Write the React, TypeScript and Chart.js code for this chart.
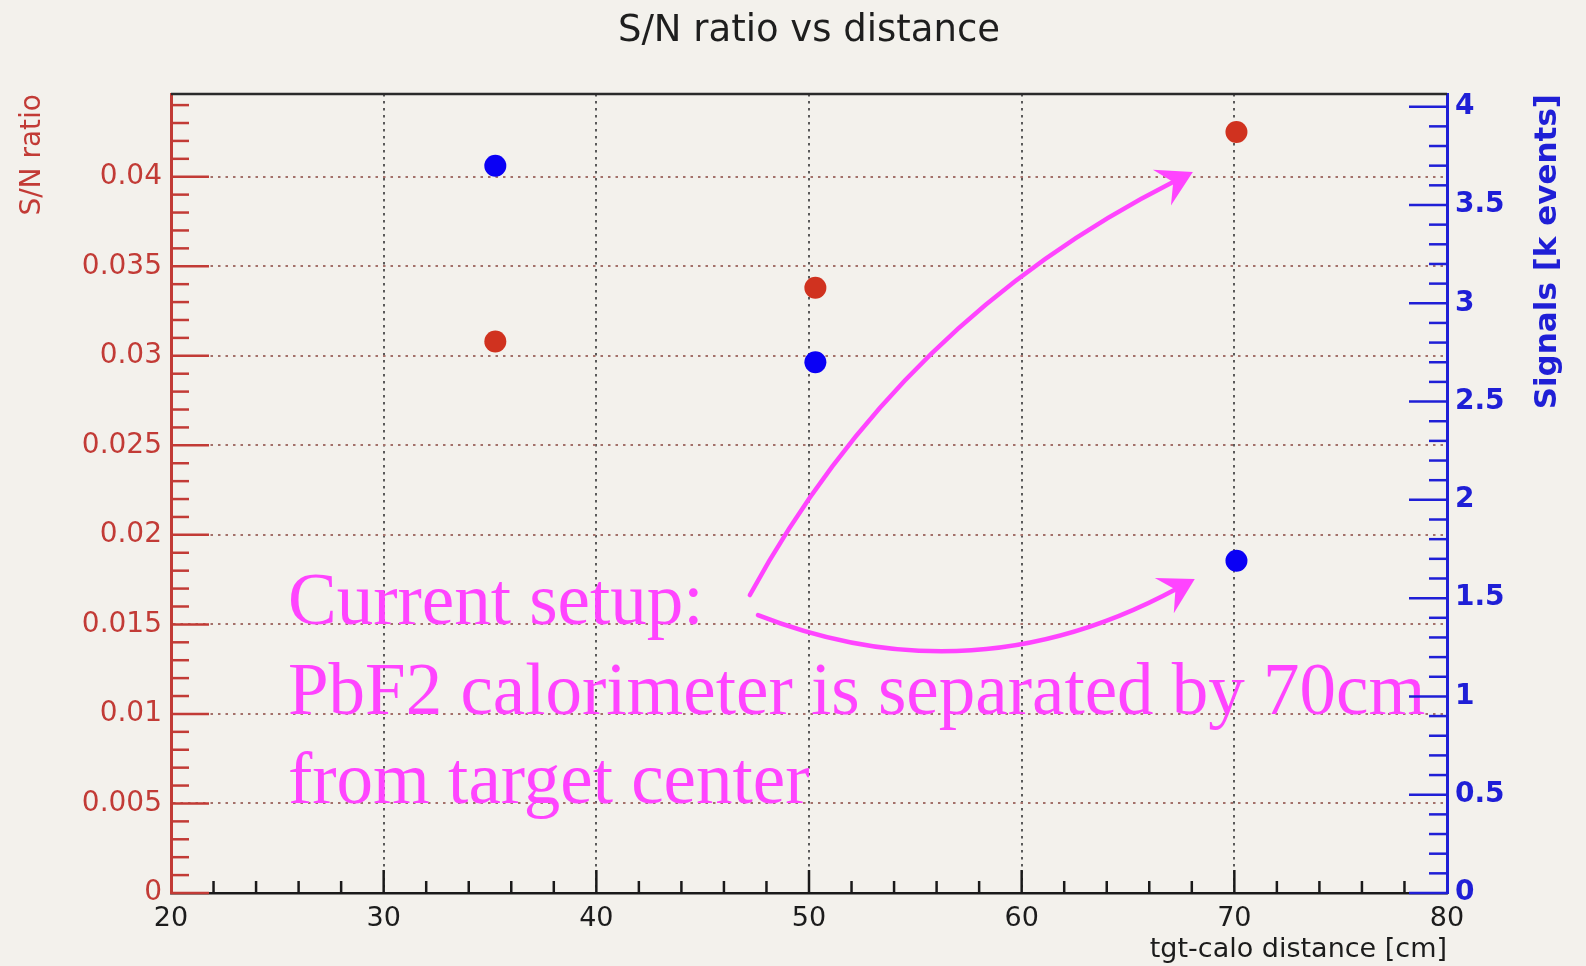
import React, { useEffect, useRef } from 'react';
import { Chart, registerables } from 'chart.js';

Chart.register(...registerables);

// ---- data ----
const distances = [35.25, 50.3, 70.1];
const snRatio = [0.0308, 0.0338, 0.0425];
const signalsK = [3.7, 2.7, 1.69];

const xTicks = [20, 30, 40, 50, 60, 70, 80];
const xTickLabels = ['20', '30', '40', '50', '60', '70', '80'];
const snTicks = [0, 0.005, 0.01, 0.015, 0.02, 0.025, 0.03, 0.035, 0.04];
const snTickLabels = ['0', '0.005', '0.01', '0.015', '0.02', '0.025', '0.03', '0.035', '0.04'];
const sigTicks = [0, 0.5, 1, 1.5, 2, 2.5, 3, 3.5, 4];
const sigTickLabels = ['0', '0.5', '1', '1.5', '2', '2.5', '3', '3.5', '4'];

const noteLines = ['Current setup:', 'PbF2 calorimeter is separated by 70cm', 'from target center'];

// ---- styles ----
const BG = '#f3f1ec';
const RED_AX = '#c23b36';
const RED_PT = '#d0321f';
const BLUE_AX = '#1f1fd6';
const BLUE_PT = '#0a00f5';
const MAGENTA = '#ff44ff';
const FONT = 'DejaVu Sans';
const TRANSPARENT = 'rgba(0,0,0,0)';

// annotation anchors (in data units: x distance, y S/N ratio)
const NOTE_X = 25.5;
const NOTE_Y = [0.015, 0.01, 0.005];
const ARROWS = [
  { from: [47.22, 0.01664], ctrl: [54.27, 0.032], to: [68.05, 0.04026] },
  { from: [47.6, 0.01552], ctrl: [57.7, 0.01083], to: [68.14, 0.01753] },
];

const rootDecor = {
  id: 'rootDecor',
  afterDatasetsDraw(chart: any) {
    const { ctx, scales } = chart;
    const xs = scales.x;
    const ys = scales.y;
    ctx.save();
    // annotation text
    ctx.fillStyle = MAGENTA;
    ctx.font = '73px "Liberation Serif"';
    ctx.textAlign = 'left';
    ctx.textBaseline = 'alphabetic';
    noteLines.forEach((t, i) => {
      ctx.fillText(t, xs.getPixelForValue(NOTE_X), ys.getPixelForValue(NOTE_Y[i]));
    });
    // arrows
    ctx.strokeStyle = MAGENTA;
    ctx.lineWidth = 4.5;
    ctx.lineCap = 'round';
    ARROWS.forEach((a) => {
      const p0 = [xs.getPixelForValue(a.from[0]), ys.getPixelForValue(a.from[1])];
      const p1 = [xs.getPixelForValue(a.ctrl[0]), ys.getPixelForValue(a.ctrl[1])];
      const p2 = [xs.getPixelForValue(a.to[0]), ys.getPixelForValue(a.to[1])];
      const dx = p2[0] - p1[0];
      const dy = p2[1] - p1[1];
      const len = Math.hypot(dx, dy);
      const ux = dx / len;
      const uy = dy / len;
      const L = 40;
      const back = [p2[0] - ux * L * 0.5, p2[1] - uy * L * 0.5];
      ctx.beginPath();
      ctx.moveTo(p0[0], p0[1]);
      ctx.quadraticCurveTo(p1[0], p1[1], back[0], back[1]);
      ctx.stroke();
      const ang = Math.PI / 6;
      const rot = (s: number) => [
        -(ux * Math.cos(s * ang) - uy * Math.sin(s * ang)),
        -(ux * Math.sin(s * ang) + uy * Math.cos(s * ang)),
      ];
      const r1 = rot(1);
      const r2 = rot(-1);
      ctx.beginPath();
      ctx.moveTo(p2[0], p2[1]);
      ctx.lineTo(p2[0] + r1[0] * L, p2[1] + r1[1] * L);
      ctx.lineTo(p2[0] - ux * L * 0.55, p2[1] - uy * L * 0.55);
      ctx.lineTo(p2[0] + r2[0] * L, p2[1] + r2[1] * L);
      ctx.closePath();
      ctx.fillStyle = MAGENTA;
      ctx.fill();
    });
    ctx.restore();
  },
  afterDraw(chart: any) {
    const { ctx, chartArea, scales } = chart;
    const { left, right, top, bottom } = chartArea;
    const xs = scales.x;
    const ys = scales.y;
    const y1 = scales.y1;
    ctx.save();
    ctx.lineCap = 'butt';
    // top frame line
    ctx.strokeStyle = '#2a2a2a';
    ctx.lineWidth = 2.5;
    ctx.beginPath();
    ctx.moveTo(left, top);
    ctx.lineTo(right, top);
    ctx.stroke();

    // x ticks (inward)
    ctx.strokeStyle = '#1a1a1a';
    ctx.lineWidth = 2.5;
    for (let i = 0; i <= 30; i++) {
      const v = xs.min + i * 2;
      if (v <= xs.min || v >= xs.max) continue;
      const major = i % 5 === 0;
      const px = xs.getPixelForValue(v);
      ctx.beginPath();
      ctx.moveTo(px, bottom);
      ctx.lineTo(px, bottom - (major ? 23 : 12));
      ctx.stroke();
    }

    // left y ticks
    ctx.strokeStyle = RED_AX;
    ctx.lineWidth = 2.5;
    for (let i = 0; i * 0.001 <= ys.max + 1e-9; i++) {
      const v = i * 0.001;
      const major = i % 5 === 0;
      const py = ys.getPixelForValue(v);
      ctx.beginPath();
      ctx.moveTo(left, py);
      ctx.lineTo(left + (major ? 38 : 18), py);
      ctx.stroke();
    }

    // right y ticks
    ctx.strokeStyle = BLUE_AX;
    for (let i = 0; i * 0.1 <= y1.max + 1e-9; i++) {
      const v = i * 0.1;
      const major = i % 5 === 0;
      const py = y1.getPixelForValue(v);
      ctx.beginPath();
      ctx.moveTo(right, py);
      ctx.lineTo(right - (major ? 38 : 18), py);
      ctx.stroke();
    }

    // right axis title (reads bottom to top, end at top)
    ctx.fillStyle = BLUE_AX;
    ctx.font = `bold 31px "${FONT}"`;
    ctx.textAlign = 'right';
    ctx.textBaseline = 'middle';
    ctx.translate(right + 101, top);
    ctx.rotate(-Math.PI / 2);
    ctx.fillText('Signals [k events]', 0, 0);
    ctx.restore();
  },
};

export default function App() {
  const ref = useRef<HTMLCanvasElement>(null);

  useEffect(() => {
    document.body.style.margin = '0';
    document.body.style.background = BG;
    Chart.defaults.font.family = FONT;
    const chart = new Chart(ref.current as HTMLCanvasElement, {
      type: 'scatter',
      data: {
        datasets: [
          {
            label: 'S/N ratio',
            data: distances.map((d, i) => ({ x: d, y: snRatio[i] })),
            yAxisID: 'y',
            pointRadius: 11,
            pointHoverRadius: 11,
            pointBackgroundColor: RED_PT,
            pointBorderWidth: 0,
            showLine: false,
          },
          {
            label: 'Signals [k events]',
            data: distances.map((d, i) => ({ x: d, y: signalsK[i] })),
            yAxisID: 'y1',
            pointRadius: 11,
            pointHoverRadius: 11,
            pointBackgroundColor: BLUE_PT,
            pointBorderWidth: 0,
            showLine: false,
          },
        ],
      } as any,
      options: {
        responsive: false,
        animation: false,
        layout: { padding: 0 },
        events: [],
        plugins: {
          legend: { display: false },
          tooltip: { enabled: false },
          title: {
            display: true,
            text: 'S/N ratio vs distance',
            fullSize: false,
            color: '#1e1e1e',
            font: { family: FONT, size: 37, weight: 'normal' },
            padding: { top: 9, bottom: 40.6 },
          },
        },
        scales: {
          x: {
            type: 'linear',
            position: 'bottom',
            min: 20,
            max: 80,
            afterBuildTicks: (s: any) => {
              s.ticks = xTicks.map((v) => ({ value: v }));
            },
            afterFit: (s: any) => {
              s.height = 73;
            },
            ticks: {
              autoSkip: false,
              maxRotation: 0,
              padding: 10,
              color: '#1c1c1c',
              font: { size: 27 },
              callback: (_v: any, i: number) => xTickLabels[i],
            },
            grid: {
              drawTicks: false,
              lineWidth: 2,
              color: (c: any) =>
                c.tick && (c.tick.value === 20 || c.tick.value === 80) ? TRANSPARENT : '#5a5a5a',
            },
            border: { display: true, color: '#1a1a1a', width: 2.5, dash: [2.5, 4.5] },
            title: {
              display: true,
              text: 'tgt-calo distance [cm]',
              align: 'end',
              color: '#1c1c1c',
              font: { size: 27 },
              padding: { top: 0, bottom: 0 },
            },
          },
          y: {
            type: 'linear',
            position: 'left',
            min: 0,
            max: 0.04462,
            afterBuildTicks: (s: any) => {
              s.ticks = snTicks.map((v) => ({ value: v }));
            },
            afterFit: (s: any) => {
              s.width = 171;
            },
            ticks: {
              autoSkip: false,
              padding: 9,
              color: RED_AX,
              font: { size: 28 },
              callback: (_v: any, i: number) => snTickLabels[i],
            },
            grid: {
              drawTicks: false,
              lineWidth: 2,
              color: (c: any) => (c.tick && c.tick.value === 0 ? TRANSPARENT : '#a3716a'),
            },
            border: { display: true, color: RED_AX, width: 3, dash: [2.5, 5] },
            title: {
              display: true,
              text: 'S/N ratio',
              align: 'end',
              color: RED_AX,
              font: { size: 28 },
              padding: { top: 16, bottom: 0 },
            },
          },
          y1: {
            type: 'linear',
            position: 'right',
            min: 0,
            max: 4.0646,
            afterBuildTicks: (s: any) => {
              s.ticks = sigTicks.map((v) => ({ value: v }));
            },
            afterFit: (s: any) => {
              s.width = 139;
            },
            ticks: {
              autoSkip: false,
              padding: 8,
              color: BLUE_AX,
              font: { size: 28, weight: 'bold' },
              callback: (_v: any, i: number) => sigTickLabels[i],
            },
            grid: { display: false, drawTicks: false },
            border: { display: true, color: BLUE_AX, width: 3 },
            title: { display: false },
          },
        },
      } as any,
      plugins: [rootDecor],
    });
    return () => chart.destroy();
  }, []);

  return (
    <div style={{ position: 'absolute', left: 0, top: 0, width: 1586, height: 966, background: BG }}>
      <canvas ref={ref} width={1586} height={966} style={{ display: 'block', width: 1586, height: 966 }} />
    </div>
  );
}
